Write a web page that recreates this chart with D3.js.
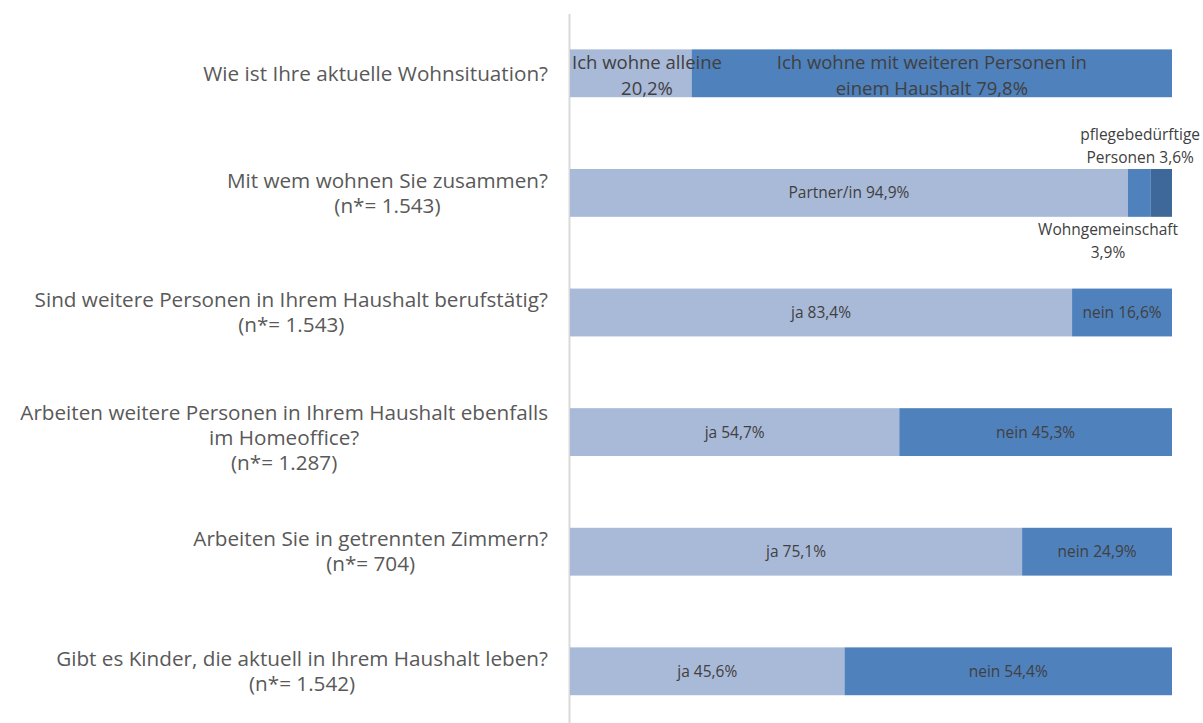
<!DOCTYPE html>
<html>
<head>
<meta charset="utf-8">
<script src="https://cdn.jsdelivr.net/npm/d3@7"></script>
<style>
  body { margin: 0; background: #fff; }
  svg { display: block; font-family: "Open Sans", Lato, sans-serif; }
</style>
</head>
<body>
<svg id="chart" width="1203" height="723"></svg>
<script>
const questionLabels = [
    ["Wie ist Ihre aktuelle Wohnsituation?"],
    ["Mit wem wohnen Sie zusammen?", "(n*= 1.543)"],
    ["Sind weitere Personen in Ihrem Haushalt berufstätig?", "(n*= 1.543)"],
    ["Arbeiten weitere Personen in Ihrem Haushalt ebenfalls", "im Homeoffice?", "(n*= 1.287)"],
    ["Arbeiten Sie in getrennten Zimmern?", "(n*= 704)"],
    ["Gibt es Kinder, die aktuell in Ihrem Haushalt leben?", "(n*= 1.542)"]
];

const segmentNames = [
    ["Ich wohne alleine\n", "Ich wohne mit weiteren Personen in\neinem Haushalt"],
    ["Partner/in", "Wohngemeinschaft\n", "pflegebedürftige\nPersonen"],
    ["ja", "nein"],
    ["ja", "nein"],
    ["ja", "nein"],
    ["ja", "nein"]
];

const segmentValues = [
    [20.2, 79.8],
    [94.9, 3.9, 3.6],
    [83.4, 16.6],
    [54.7, 45.3],
    [75.1, 24.9],
    [45.6, 54.4]
];

const segmentColors = ["#a9b9d8", "#4f81bd", "#3e6899"];
const margin = {left: 570, right: 31, top: 13.5};
const width = 1203, height = 723;

const svg = d3.select("#chart");

const x = d3.scaleLinear().domain([0, 1]).range([margin.left, width - margin.right]);
const y = d3.scaleBand()
    .domain(d3.range(questionLabels.length))
    .range([margin.top, margin.top + 119.6 * questionLabels.length])
    .paddingInner(0.6)
    .paddingOuter(0.3);

const fmt = v => d3.format(".1f")(v).replace(".", ",") + "%";

// stack each row to 100%
const rows = segmentValues.map((vals, i) => {
    const total = d3.sum(vals);
    let acc = 0;
    return vals.map((v, j) => {
        const seg = {row: i, idx: j, value: v, x0: acc / total, x1: (acc + v) / total, name: segmentNames[i][j]};
        acc += v;
        return seg;
    });
});

// multi-line text block, lines centred on each other
function textBlock(parent, lines, fontSize, fill) {
    const text = parent.append("text")
        .attr("font-size", fontSize)
        .attr("fill", fill)
        .attr("text-anchor", "middle");
    const spans = lines.map(l => text.append("tspan").text(l));
    const w = d3.max(spans, s => s.node().getComputedTextLength());
    return {
        width: w,
        place(cx, cy, lh) {
            spans.forEach((s, k) => {
                s.attr("x", cx)
                 .attr("y", cy + (k - (lines.length - 1) / 2) * lh)
                 .attr("dy", "0.35em");
            });
        }
    };
}

// vertical axis line
svg.append("g")
    .attr("transform", `translate(${margin.left - 1},0)`)
    .call(d3.axisLeft(y).tickSize(0).tickSizeOuter(0).tickFormat(""))
    .call(g => g.select(".domain").attr("stroke", "#d9d9d9").attr("stroke-width", 2))
    .call(g => g.selectAll(".tick").remove());

// bars
svg.append("g").selectAll("rect")
    .data(rows.flat())
    .join("rect")
    .attr("x", d => x(d.x0))
    .attr("y", d => y(d.row))
    .attr("width", d => x(d.x1) - x(d.x0))
    .attr("height", y.bandwidth())
    .attr("fill", d => segmentColors[d.idx]);

// category labels, block right aligned
const catRight = 548;
const catG = svg.append("g");
questionLabels.forEach((lines, i) => {
    const b = textBlock(catG, lines, 20.7, "#595959");
    const cy = y(i) + y.bandwidth() / 2 + (lines.length > 2 ? 6 : 0);
    b.place(catRight - b.width / 2, cy, 25);
});

// data labels
const outside = {"1-1": "below", "1-2": "above"};
const labG = svg.append("g");
rows.flat().forEach(d => {
    const label = d.name.endsWith("\n") ? d.name + fmt(d.value) : d.name + " " + fmt(d.value);
    const big = d.row === 0;
    const key = `${d.row}-${d.idx}`;
    const b = textBlock(labG, label.split("\n"), big ? 18.5 : 15.5, "#404040");
    let cx = (x(d.x0) + x(d.x1)) / 2;
    let cy = y(d.row) + y.bandwidth() / 2 + (big ? 2 : 0);
    if (outside[key] === "below") {
        cx = x(1) + 6 - b.width / 2;
        cy = y(d.row) + y.bandwidth() + 24;
    } else if (outside[key] === "above") {
        cx = width - 3 - b.width / 2;
        cy = y(d.row) - 23;
    } else {
        cx = Math.max(cx, x(d.x0) + b.width / 2 + 2);
    }
    b.place(cx, cy, big ? 26 : 23);
});
</script>
</body>
</html>
